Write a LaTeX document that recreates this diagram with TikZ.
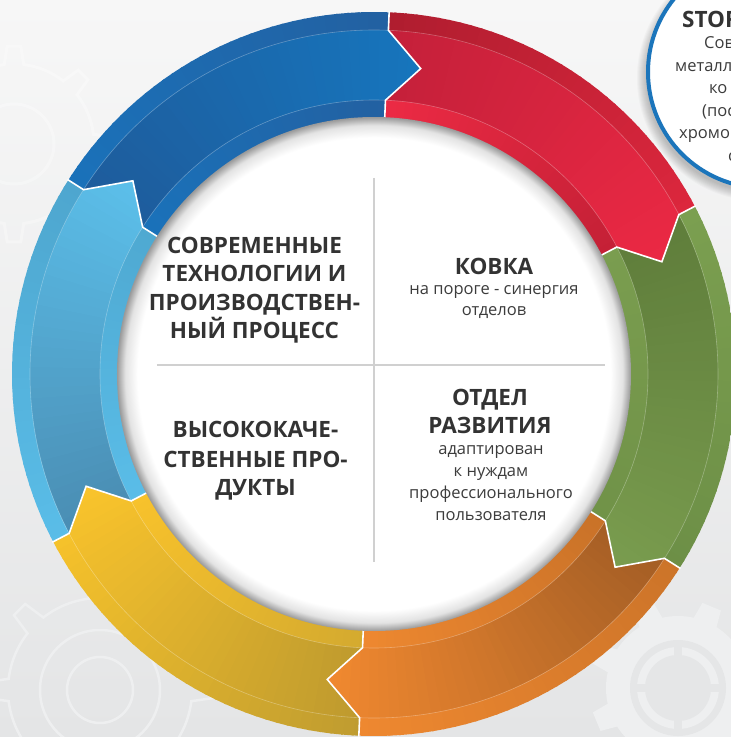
\documentclass[tikz,border=0pt]{standalone}
\usepackage{fontspec}
\setmainfont{Open Sans}
\definecolor{bgTop}{HTML}{F7F7F7}
\definecolor{bgBot}{HTML}{E4E5E6}
\definecolor{txt}{HTML}{333333}
\definecolor{txtb}{HTML}{3C3C3C}
\definecolor{divl}{HTML}{D0D0D0}
\definecolor{circBlue}{HTML}{1B75BB}
\definecolor{gearL}{HTML}{EEEFF0}
\definecolor{gearD}{HTML}{E5E6E7}
% blue
\definecolor{bMT}{HTML}{1E5C9C}\definecolor{bMH}{HTML}{1676BE}
\definecolor{bOT}{HTML}{1A72BA}\definecolor{bOH}{HTML}{245E9E}
\definecolor{bIT}{HTML}{1A72BA}\definecolor{bIH}{HTML}{245E9E}
% red
\definecolor{rMT}{HTML}{C4203A}\definecolor{rMH}{HTML}{EC2944}
\definecolor{rOT}{HTML}{AF1D2F}\definecolor{rOH}{HTML}{E2283F}
\definecolor{rIT}{HTML}{EC2A44}\definecolor{rIH}{HTML}{BF1F34}
% green
\definecolor{gMT}{HTML}{5F7D3B}\definecolor{gMH}{HTML}{7A9D4F}
\definecolor{gOT}{HTML}{7B9F50}\definecolor{gOH}{HTML}{6B8D45}
\definecolor{gIT}{HTML}{7A9D4F}\definecolor{gIH}{HTML}{6F9147}
% orange
\definecolor{oMT}{HTML}{A45E25}\definecolor{oMH}{HTML}{F38A30}
\definecolor{oOT}{HTML}{CC7429}\definecolor{oOH}{HTML}{F38B31}
\definecolor{oIT}{HTML}{C97228}\definecolor{oIH}{HTML}{F38B31}
% yellow
\definecolor{yMT}{HTML}{BE9A2E}\definecolor{yMH}{HTML}{FBC52C}
\definecolor{yOT}{HTML}{BF9C30}\definecolor{yOH}{HTML}{FDC72A}
\definecolor{yIT}{HTML}{D4AA2F}\definecolor{yIH}{HTML}{FCC52B}
% light blue
\definecolor{lMT}{HTML}{4A8DB3}\definecolor{lMH}{HTML}{5CC1EC}
\definecolor{lOT}{HTML}{5ABDE8}\definecolor{lOH}{HTML}{4CA3CB}
\definecolor{lIT}{HTML}{5ABDE8}\definecolor{lIH}{HTML}{4DA6CE}

\pgfdeclareradialshading{whitedisk}{\pgfpoint{0bp}{0bp}}{color(0bp)=(white); color(23.0bp)=(white); color(24.2bp)=(black!11); color(25bp)=(black!40); color(50bp)=(black!40)}

\newcommand\ringseg[7]{%
  \begin{scope}
    \pgfmathsetmacro\segT{#1}
    \pgfmathsetmacro\segH{#1-60}
    \pgfmathsetmacro\segHt{#1-66.3}
    \pgfmathsetmacro\segTt{#1-6.3}
    \clip (\segT:362) arc[start angle=\segT, end angle=\segH, radius=362]
      -- (\segH:344) -- (\segHt:309) -- (\segH:274) -- (\segH:248)
      arc[start angle=\segH, end angle=\segT, radius=248]
      -- (\segT:274) -- (\segTt:309) -- (\segT:344) -- cycle;
    \foreach \i in {0,...,39}{
      \pgfmathsetmacro\sa{\segT+1-\i*1.75}
      \pgfmathsetmacro\sb{\sa-2.1}
      \pgfmathsetmacro\sp{100*\i/39}
      \fill[#3!\sp!#2] (\sa:273.5) arc[start angle=\sa, end angle=\sb, radius=273.5]
        -- (\sb:344.5) arc[start angle=\sb, end angle=\sa, radius=344.5] -- cycle;
      \fill[#5!\sp!#4] (\sa:344) arc[start angle=\sa, end angle=\sb, radius=344]
        -- (\sb:363) arc[start angle=\sb, end angle=\sa, radius=363] -- cycle;
      \fill[#7!\sp!#6] (\sa:246) arc[start angle=\sa, end angle=\sb, radius=246]
        -- (\sb:274) arc[start angle=\sb, end angle=\sa, radius=274] -- cycle;
    }
  \end{scope}}

\newcommand\segedge[1]{%
  \pgfmathsetmacro\eA{#1}
  \pgfmathsetmacro\eB{#1-6.3}
  \draw[white, line width=1.6, line join=miter] (\eA:363) -- (\eA:344) -- (\eB:309) -- (\eA:274) -- (\eA:250);}

\tikzset{
  hd/.style={font=\fontsize{22.5}{27}\selectfont\bfseries, text=txt, anchor=base, inner sep=0pt},
  bd/.style={font=\fontsize{16.5}{20}\selectfont, text=txtb, anchor=base, inner sep=0pt},
}

\begin{document}
\begin{tikzpicture}[x=1pt, y=1pt]
\useasboundingbox (-374,-363) rectangle (357,374);
\clip (-374,-363) rectangle (357,374);
% background
\shade[top color=bgTop, bottom color=bgBot] (-374,-363) rectangle (357,374);

% background gears
\begin{scope}[shift={(-274,-316)}]
  \draw[gearL, line width=2.5] (7:92) \foreach \k in {0,...,7}{
      arc[start angle={\k*45+7}, end angle={\k*45+38}, radius=92]
      -- ({\k*45+41}:114) -- ({\k*45+49}:114) -- ({\k*45+52}:92) } -- cycle;
  \draw[gearL, line width=2.5] (0,0) circle (33);
  \draw[gearL, line width=2.5] (0,0) circle (60);
\end{scope}
\begin{scope}[shift={(304,-314)}]
  \fill[gearL] (0,0) circle (72);
  \foreach \k in {0,...,7}{
    \fill[gearL, rotate={\k*45+22.5}] (-13,66) -- (-10,88) -- (10,88) -- (13,66) -- cycle;}
  \fill[gearD] (0,0) circle (48);
  \fill[gearL] (0,0) circle (41);
  \foreach \k in {0,...,3}{
    \fill[gearD, rotate={\k*90}] (-4,33) rectangle (4,44);}
  \fill[gearD] (0,0) circle (33);
\end{scope}
\begin{scope}[shift={(-360,230)}]
  \draw[white, opacity=.3, line width=3] (0,0) circle (40);
  \draw[white, opacity=.3, line width=3] (7:80) \foreach \k in {0,...,7}{
      arc[start angle={\k*45+7}, end angle={\k*45+38}, radius=80]
      -- ({\k*45+41}:98) -- ({\k*45+49}:98) -- ({\k*45+52}:80) } -- cycle;
\end{scope}

% ring segments
\ringseg{147.6}{bMT}{bMH}{bOT}{bOH}{bIT}{bIH}
\ringseg{87.6}{rMT}{rMH}{rOT}{rOH}{rIT}{rIH}
\ringseg{27.6}{gMT}{gMH}{gOT}{gOH}{gIT}{gIH}
\ringseg{-32.4}{oMT}{oMH}{oOT}{oOH}{oIT}{oIH}
\ringseg{-92.4}{yMT}{yMH}{yOT}{yOH}{yIT}{yIH}
\ringseg{-152.4}{lMT}{lMH}{lOT}{lOH}{lIT}{lIH}
% band separation lines
\draw[white, opacity=.3, line width=.6] (0,0) circle (344);
\draw[white, opacity=.3, line width=.6] (0,0) circle (274);
% white separators
\segedge{87.6}
\segedge{27.6}
\segedge{-32.4}
\segedge{-92.4}
\segedge{-152.4}
\segedge{147.6}

% central white disk
\shade[shading=whitedisk] (0,0) circle (257);

% dividers
\coordinate (vT) at (0,196);
\coordinate (vB) at (0,-188);
\coordinate (hL) at (-217,9);
\coordinate (hR) at (231,9);
\draw[divl, line width=1.2] (vT) -- (vB);
\draw[divl, line width=1.2] (hL) -- (hR);

% quadrant texts
\node[hd] (t1) at (-119.5,121) {СОВРЕМЕННЫЕ};
\node[hd] (t2) at (-119.5,92.5) {ТЕХНОЛОГИИ И};
\node[hd] (t3) at (-119.5,64) {ПРОИЗВОДСТВЕН-};
\node[hd] (t4) at (-119.5,35.5) {НЫЙ ПРОЦЕСС};
\node[hd] (b1) at (-118.5,-63) {ВЫСОКОКАЧЕ-};
\node[hd] (b2) at (-118.5,-93) {СТВЕННЫЕ ПРО-};
\node[hd] (b3) at (-118.5,-121) {ДУКТЫ};
\node[hd] (k1) at (120,100) {КОВКА};
\node[bd] (k2) at (120,79.5) {на пороге - синергия};
\node[bd] (k3) at (120,58.5) {отделов};
\node[hd] (o1) at (116,-31) {ОТДЕЛ};
\node[hd] (o2) at (116,-59) {РАЗВИТИЯ};
\node[bd] (o3) at (117,-80.5) {адаптирован};
\node[bd] (o4) at (117,-102.5) {к нуждам};
\node[bd] (o5) at (117,-124.5) {профессионального};
\node[bd] (o6) at (117,-146.5) {пользователя};

% top-right circle
\foreach \k in {1,...,10}{
  \fill[black, opacity=.022] (386,296) circle ({113+\k});}
\fill[white] (390,302) circle (116);
\draw[circBlue, line width=4] (390,302) circle (116);
\node[hd, anchor=base west] (s0) at (308,346) {STOR};
\node[bd, anchor=base west] (s1) at (330,325) {Сов};
\node[bd, anchor=base west] (s2) at (301,302.5) {металл};
\node[bd, anchor=base west] (s3) at (335,280) {ко};
\node[bd, anchor=base west] (s4) at (328,257.5) {(пос};
\node[bd, anchor=base west] (s5) at (305,235) {хромо};
\node[bd, anchor=base west] (s6) at (354,212.5) {с};
\end{tikzpicture}
\end{document}
